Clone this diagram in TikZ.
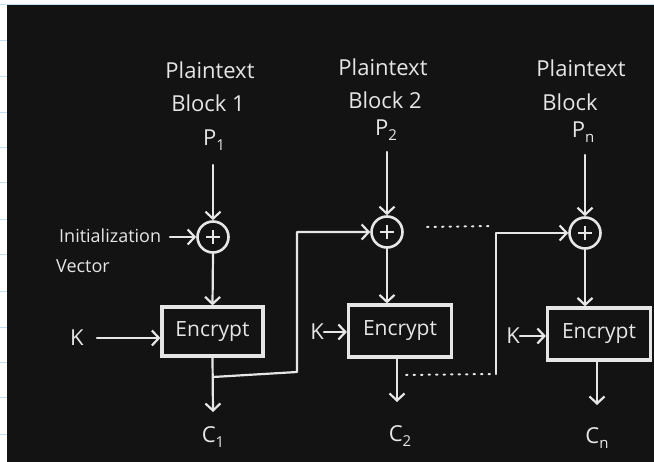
\documentclass[tikz,border=0pt]{standalone}
\usepackage{fontspec}
\setmainfont{Open Sans}
\usetikzlibrary{arrows.meta}
\definecolor{bg}{HTML}{131313}
\definecolor{ink}{HTML}{E6E6E6}
\definecolor{rule}{HTML}{BFE0F5}
\newcommand{\sbs}[1]{\raisebox{-0.25em}{\fontsize{15}{16}\selectfont #1}}
\tikzset{
  lbl/.style={text=ink, font=\fontsize{22}{24}\selectfont, inner sep=0pt},
  small/.style={text=ink, font=\fontsize{18}{20}\selectfont, inner sep=0pt},
  wire/.style={draw=ink, line width=2.2pt, line cap=round, line join=round},
  arr/.style={wire, -{Straight Barb[length=7pt,width=15pt,line width=2.2pt]}},
  xorn/.style={circle, draw=ink, line width=2.6pt, minimum size=31pt, inner sep=0pt},
  encbox/.style={draw=ink, line width=3.2pt, inner sep=0pt, text=ink, font=\fontsize{21}{23}\selectfont},
  dots/.style={draw=ink, line width=2pt, dash pattern=on 1.5pt off 6pt, line cap=round}
}
\begin{document}
\begin{tikzpicture}[x=1pt,y=-1pt]
\useasboundingbox (0,0) rectangle (654,462);
% page and blackboard
\fill[white] (0,0) rectangle (654,462);
\foreach \yy in {41,77,113,148,183,220,255,292,328,363,398,435}
  \draw[rule, line width=1pt] (0,\yy) -- (7,\yy);
\draw[rule, line width=1.5pt] (0,4.5) -- (654,4.5);
\fill[bg] (7,5.5) rectangle (654,462);

% column 1
\node[lbl] (pa1) at (210,70) {Plaintext};
\node[lbl] (pb1) at (208,103) {Block 1};
\node[lbl] (pc1) at (214,140) {P\sbs{1}};
\coordinate (s1) at (213,165);
\node[xorn] (x1) at (213,237) {};
\draw[ink, line width=2.2pt] ([xshift=-7pt]x1.center) -- ([xshift=7pt]x1.center) ([yshift=-7pt]x1.center) -- ([yshift=7pt]x1.center);
\node[small, anchor=west] (iv) at (59,236) {Initialization};
\node[small, anchor=west] (vec) at (56,266) {Vector};
\coordinate (iva) at (170,237);
\node[encbox, minimum width=101pt, minimum height=49pt] (e1) at (212.5,331.5) {Encrypt};
\node[lbl] (k1) at (77,338) {K};
\coordinate (k1a) at (97,338);
\node[lbl] (c1) at (213,437) {C\sbs{1}};
\coordinate (o1) at (213,412);
\coordinate (b1) at (213,377);

% column 2
\node[lbl] (pa2) at (383,67) {Plaintext};
\node[lbl] (pb2) at (385,100) {Block 2};
\node[lbl] (pc2) at (386,130) {P\sbs{2}};
\coordinate (s2) at (387,152);
\node[xorn] (x2) at (387,232) {};
\draw[ink, line width=2.2pt] ([xshift=-7pt]x2.center) -- ([xshift=7pt]x2.center) ([yshift=-7pt]x2.center) -- ([yshift=7pt]x2.center);
\node[encbox, minimum width=103pt, minimum height=52pt] (e2) at (400,331) {Encrypt};
\node[lbl] (k2) at (317,332) {K};
\coordinate (c2a) at (397,402);
\node[lbl] (c2) at (400,436) {C\sbs{2}};
\coordinate (b2) at (406,375);

% column 3
\node[lbl] (pa3) at (581,68) {Plaintext};
\node[lbl] (pb3) at (570,102) {Block};
\node[lbl] (pc3) at (583,132) {P\sbs{n}};
\coordinate (s3) at (585,155);
\node[xorn] (x3) at (585,233) {};
\draw[ink, line width=2.2pt] ([xshift=-7pt]x3.center) -- ([xshift=7pt]x3.center) ([yshift=-7pt]x3.center) -- ([yshift=7pt]x3.center);
\node[encbox, minimum width=103pt, minimum height=52pt] (e3) at (599,334) {Encrypt};
\node[lbl] (k3) at (513,336) {K};
\coordinate (c3a) at (597,405);
\node[lbl] (c3) at (597,438) {C\sbs{n}};

% connectors column 1
\draw[arr] (s1) -- (x1.north);
\draw[arr] (iva) -- (x1.west);
\draw[arr] (x1.south) -- (e1.north);
\draw[arr] (k1a) -- (e1.west |- k1a);
\draw[arr] (e1.south) -- (o1);
\draw[arr] (b1) -- (297,372) -- (297,232) -- (x2.west);

% connectors column 2
\draw[arr] (s2) -- (x2.north);
\draw[arr] (x2.south) -- (x2.south |- e2.north);
\draw[arr] (k2.east) -- (e2.west |- k2.east);
\draw[arr] (c2a |- e2.south) -- (c2a);
\draw[dots] (427,227) -- (490,226);
\draw[dots] (b2) -- (494,374);
\draw[arr] (496,374) -- (496,233) -- (x3.west);

% connectors column 3
\draw[arr] (s3) -- (x3.north);
\draw[arr] (x3.south) -- (x3.south |- e3.north);
\draw[arr] (k3.east) -- (e3.west |- k3.east);
\draw[arr] (c3a |- e3.south) -- (c3a);
\end{tikzpicture}
\end{document}
